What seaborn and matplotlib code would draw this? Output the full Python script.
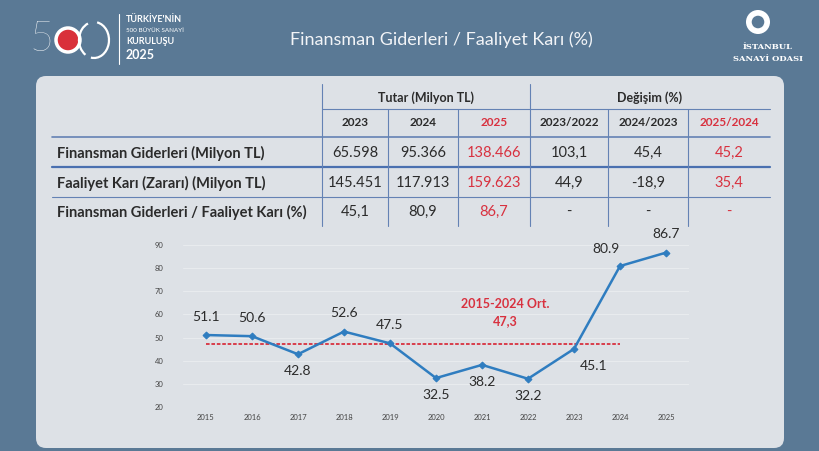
import numpy as np
import pandas as pd
import matplotlib
matplotlib.use("Agg")
import matplotlib.pyplot as plt
from matplotlib.patches import FancyBboxPatch, Circle, Arc
import seaborn as sns

# data
years = [2015, 2016, 2017, 2018, 2019, 2020, 2021, 2022, 2023, 2024, 2025]
ratio = [51.1, 50.6, 42.8, 52.6, 47.5, 32.5, 38.2, 32.2, 45.1, 80.9, 86.7]
avg_2015_2024 = 47.3

row_labels = ["Finansman Giderleri (Milyon TL)",
              "Faaliyet Karı (Zararı) (Milyon TL)",
              "Finansman Giderleri / Faaliyet Karı (%)"]
col_years = ["2023", "2024", "2025", "2023/2022", "2024/2023", "2025/2024"]
fin_gider = ["65.598", "95.366", "138.466", "103,1", "45,4", "45,2"]
faaliyet_kar = ["145.451", "117.913", "159.623", "44,9", "-18,9", "35,4"]
oran = ["45,1", "80,9", "86,7", "-", "-", "-"]

sns.set_theme(style="white")
plt.rcParams['font.family'] = ['Lato', 'DejaVu Sans']

BG = '#5a7995'
PANEL = '#dde1e6'
RED = '#d8313f'
BLUE = '#2f7dc0'
TXT = '#2b2b2b'
GRIDBLUE = '#6482b4'

fig = plt.figure(figsize=(8.2, 4.51), dpi=100)
fig.patch.set_facecolor(BG)

# pixel-space background axes for panel, header and table
bg = fig.add_axes([0, 0, 1, 1])
bg.set_xlim(0, 820)
bg.set_ylim(451, 0)
bg.axis('off')

bg.add_patch(FancyBboxPatch((36, 76), 748, 372, boxstyle="round,pad=0,rounding_size=10",
                            facecolor=PANEL, edgecolor='none'))
# faint gears in the background
for cx, cy, r in [(665, 300, 45), (690, 385, 45), (748, 300, 24), (730, 250, 16), (742, 380, 14)]:
    bg.add_patch(Circle((cx, cy), r, facecolor='#e2e5e9', edgecolor='#e8ebee', lw=4, zorder=0.5))

# header: logo + title
bg.text(42, 40, "5", color='white', fontsize=30, ha='center', va='center', fontweight='light')
bg.add_patch(Circle((68, 40), 12, facecolor='#d9303a', edgecolor='white', lw=2.5))
bg.add_patch(Arc((94, 40), 30, 36, theta1=-80, theta2=100, edgecolor='white', lw=1.6))
bg.add_patch(Arc((94, 40), 30, 36, theta1=120, theta2=250, edgecolor='white', lw=1.6))
bg.plot([119, 119], [14, 64], color='white', lw=0.8)
bg.text(126, 19, "TÜRKİYE'NİN", color='white', fontsize=6.5, fontweight='bold', va='center')
bg.text(126, 30, "500 BÜYÜK SANAYİ", color='white', fontsize=4.5, va='center')
bg.text(126, 42, "KURULUŞU", color='white', fontsize=6.5, fontweight='bold', va='center')
bg.text(126, 55, "2025", color='white', fontsize=9, fontweight='bold', va='center')
bg.text(441, 40, "Finansman Giderleri / Faaliyet Karı (%)", color='#f2f4f7', fontsize=13,
        ha='center', va='center')
bg.add_patch(Circle((758, 22), 12, facecolor='white', edgecolor='none'))
bg.add_patch(Circle((758, 22), 7, facecolor=BG, edgecolor='white', lw=1))
bg.text(768, 47, "İSTANBUL", color='white', fontsize=6, fontweight='bold', ha='center',
        va='center', family='DejaVu Serif')
bg.text(768, 59, "SANAYİ ODASI", color='white', fontsize=6, fontweight='bold', ha='center',
        va='center', family='DejaVu Serif')

# table
col_edges = [322, 388, 458, 530, 608, 688, 770]
col_centers = [(a + b) / 2 for a, b in zip(col_edges[:-1], col_edges[1:])]
row_y = [153, 183, 212]

bg.plot([322, 770], [109, 109], color=GRIDBLUE, lw=0.8)
bg.plot([52, 770], [137, 137], color=GRIDBLUE, lw=1.2)
bg.plot([52, 770], [167, 167], color='#4a70b0', lw=1.6)
bg.plot([52, 770], [197, 197], color=GRIDBLUE, lw=0.8)
for x in [322, 530]:
    bg.plot([x, x], [84, 226], color=GRIDBLUE, lw=0.8)
for x in [388, 458, 608, 688]:
    bg.plot([x, x], [109, 226], color=GRIDBLUE, lw=0.8)

bg.text(426, 98, "Tutar (Milyon TL)", fontsize=9, fontweight='bold', color=TXT, ha='center', va='center')
bg.text(650, 98, "Değişim (%)", fontsize=9, fontweight='bold', color=TXT, ha='center', va='center')
for i, (cx, lab) in enumerate(zip(col_centers, col_years)):
    c = RED if i in (2, 5) else TXT
    bg.text(cx, 123, lab, fontsize=8.5, fontweight='bold', color=c, ha='center', va='center')

for y, lab, vals in zip(row_y, row_labels, [fin_gider, faaliyet_kar, oran]):
    bg.text(57, y, lab, fontsize=10.5, fontweight='bold', color=TXT, ha='left', va='center')
    for i, (cx, v) in enumerate(zip(col_centers, vals)):
        c = RED if i in (2, 5) else TXT
        bg.text(cx, y, v, fontsize=10.5, color=c, ha='center', va='center')

# line chart
ax = fig.add_axes([183 / 820, 1 - 407 / 451, 506 / 820, 162 / 451])
ax.set_facecolor('none')
df = pd.DataFrame({'year': years, 'ratio': ratio})
sns.lineplot(data=df, x='year', y='ratio', ax=ax, color=BLUE, lw=1.8, marker='D',
             markersize=3.5, markeredgecolor=BLUE, zorder=3)
ax.plot([years[0], 2024], [avg_2015_2024, avg_2015_2024], color=RED, lw=1.3,
        ls=(0, (2, 1)), zorder=2)

ax.set_xlim(2014.5, 2025.5)
ax.set_ylim(20, 90)
ax.set_yticks(range(20, 91, 10))
ax.set_xticks(years)
ax.tick_params(axis='both', length=0, labelsize=5.5, labelcolor='#444444')
ax.tick_params(axis='x', pad=5)
ax.tick_params(axis='y', pad=14)
ax.grid(axis='y', color='#e8ebee', lw=0.8)
for s in ax.spines.values():
    s.set_visible(False)
ax.set_xlabel('')
ax.set_ylabel('')

above = {2015, 2016, 2018, 2019, 2025}
for x, y in zip(years, ratio):
    if x in above:
        off, va = (0, 9), 'bottom'
    elif x == 2024:
        off, va = (-10, 8), 'bottom'
    elif x == 2023:
        off, va = (14, -8), 'top'
    else:
        off, va = (0, -8), 'top'
    ax.annotate(f"{y:.1f}", (x, y), xytext=off, textcoords='offset points',
                ha='center', va=va, fontsize=10, color=TXT)

avg_txt = f"{avg_2015_2024:.1f}".replace('.', ',')
ax.text(2021.5, 61, "2015-2024 Ort.\n" + avg_txt,
        color=RED, fontsize=9, fontweight='bold', ha='center', va='center', linespacing=1.5)

fig.savefig('out.png', dpi=100, facecolor=fig.get_facecolor())
